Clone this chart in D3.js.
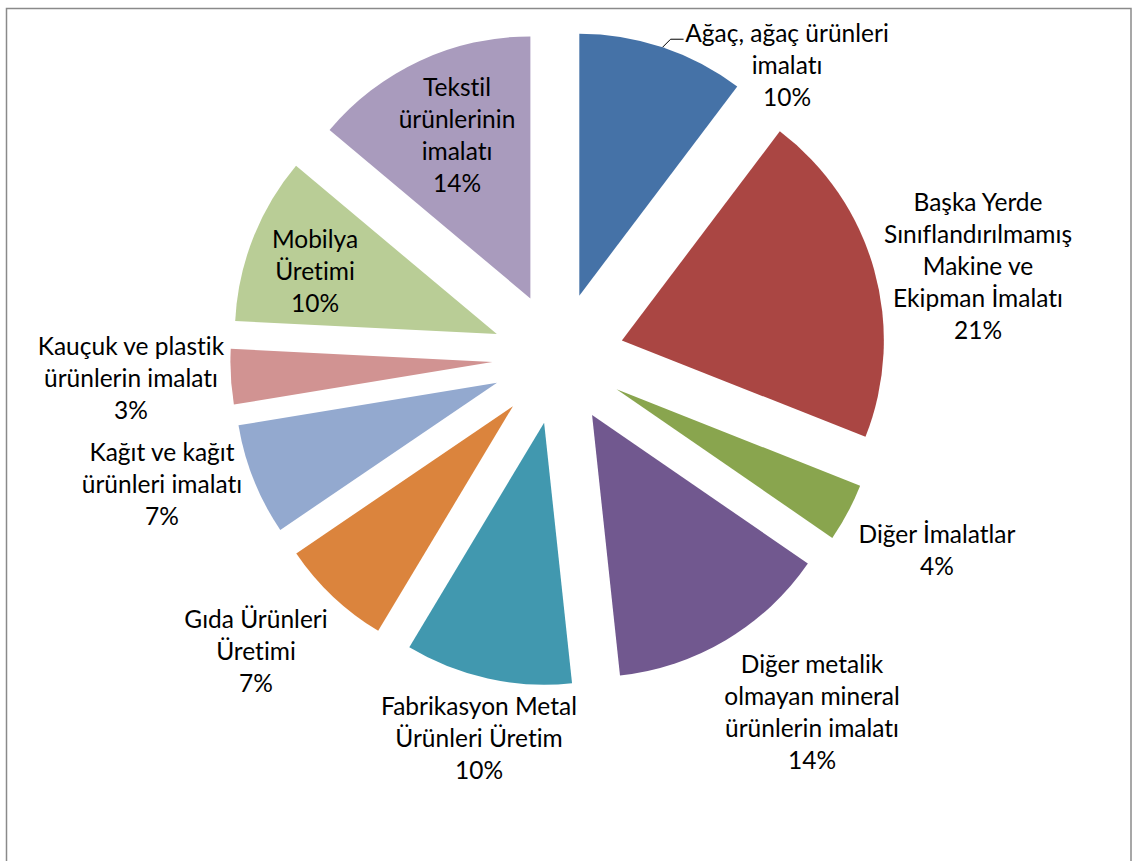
<!DOCTYPE html>
<html>
<head>
<meta charset="utf-8">
<script src="https://cdn.jsdelivr.net/npm/d3@7"></script>
<style>
  html, body { margin: 0; padding: 0; background: #ffffff; }
  svg { display: block; }
  text { font-family: Lato, "Open Sans", sans-serif; fill: #000; font-variant-ligatures: none; }
</style>
</head>
<body>
<svg id="chart" width="1134" height="861"></svg>
<script>
// ---- data ----
const categories = [
  "Ağaç, ağaç ürünleri imalatı",
  "Başka Yerde Sınıflandırılmamış Makine ve Ekipman İmalatı",
  "Diğer İmalatlar",
  "Diğer metalik olmayan mineral ürünlerin imalatı",
  "Fabrikasyon Metal Ürünleri Üretim",
  "Gıda Ürünleri Üretimi",
  "Kağıt ve kağıt ürünleri imalatı",
  "Kauçuk ve plastik ürünlerin imalatı",
  "Mobilya Üretimi",
  "Tekstil ürünlerinin imalatı"
];
const values = [10.3, 20.7, 3.6, 13.7, 10.3, 6.9, 6.9, 3.4, 10.3, 13.9];
// label lines (category text broken as in the chart)
const labelLines = [
  ["Ağaç, ağaç ürünleri", "imalatı"],
  ["Başka Yerde", "Sınıflandırılmamış", "Makine ve", "Ekipman İmalatı"],
  ["Diğer İmalatlar"],
  ["Diğer metalik", "olmayan mineral", "ürünlerin imalatı"],
  ["Fabrikasyon Metal", "Ürünleri Üretim"],
  ["Gıda Ürünleri", "Üretimi"],
  ["Kağıt ve kağıt", "ürünleri imalatı"],
  ["Kauçuk ve plastik", "ürünlerin imalatı"],
  ["Mobilya", "Üretimi"],
  ["Tekstil", "ürünlerinin", "imalatı"]
];
const colors = ["#4572A7", "#AA4643", "#89A54E", "#71588F", "#4198AF",
                "#DB843D", "#93A9CF", "#D19392", "#B9CD96", "#A99BBD"];

// ---- layout ----
const W = 1134, H = 861;
const cx = 558.3, cy = 358.2, R = 262, explode = 66;
const fontSize = 24.5, lineH = 32;
// label anchors: centre x and first-line baseline y
const labelAnchors = [
  [787, 42], [978, 211], [937, 543], [812, 673], [479, 715],
  [256, 628], [162, 461], [131, 355], [315, 248], [457, 96]
];

const svg = d3.select("#chart");

// chart border
svg.append("rect")
  .attr("x", 6.5).attr("y", 8.5)
  .attr("width", 1124.5).attr("height", 900)
  .attr("fill", "none").attr("stroke", "#8a8a8a").attr("stroke-width", 1.5);

const pie = d3.pie().sort(null).value(d => d)(values);
const arc = d3.arc().innerRadius(0).outerRadius(R);

const g = svg.append("g").attr("transform", `translate(${cx},${cy})`);

g.selectAll("path.slice")
  .data(pie)
  .join("path")
  .attr("class", "slice")
  .attr("d", arc)
  .attr("fill", (d, i) => colors[i])
  .attr("transform", d => {
    const m = (d.startAngle + d.endAngle) / 2;
    return `translate(${Math.sin(m) * explode},${-Math.cos(m) * explode})`;
  });

const total = d3.sum(values);
const fmt = d3.format(".0%");

// leader line for first slice
{
  const d = pie[0];
  const m = (d.startAngle + d.endAngle) / 2;
  const ox = cx + Math.sin(m) * (explode + R);
  const oy = cy - Math.cos(m) * (explode + R);
  svg.append("path")
    .attr("d", `M${ox},${oy}L${ox + 8},${oy - 8}L${ox + 21},${oy - 8}`)
    .attr("fill", "none").attr("stroke", "#000").attr("stroke-width", 1);
}

// labels
pie.forEach((d, i) => {
  const lines = labelLines[i].concat([fmt(values[i] / total)]);
  const [lx, ly] = labelAnchors[i];
  const t = svg.append("text")
    .attr("text-anchor", "middle")
    .attr("font-size", fontSize);
  lines.forEach((s, k) => {
    t.append("tspan").attr("x", lx).attr("y", ly + k * lineH).text(s);
  });
});
</script>
</body>
</html>
